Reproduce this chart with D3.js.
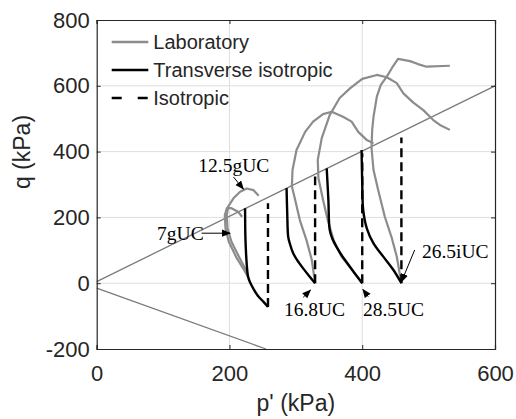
<!DOCTYPE html>
<html>
<head>
<meta charset="utf-8">
<script src="https://cdn.jsdelivr.net/npm/d3@7"></script>
<style>
    body { margin: 0; background: #fff; }
    svg { display: block; }
</style>
</head>
<body>
<svg></svg>
<script>

// ---- data (p' and q in kPa) ----
const xTicks = [0, 200, 400, 600]
const yTicks = [-200, 0, 200, 400, 600, 800]

// critical state lines
const cslP = [0, 600]
const cslQ = [5, 600]
const extP = [0, 255]
const extQ = [-15, -200]

// laboratory paths
const lab7gP = [228, 222, 211, 199, 194, 193, 196, 203, 213, 219]
const lab7gQ = [19, 40, 76, 126, 167, 207, 228, 228, 217, 202]
const lab12gP = [228, 226, 213, 203, 197, 196, 198, 206, 216, 226, 236, 244]
const lab12gQ = [19, 35, 86, 126, 167, 207, 233, 258, 278, 288, 283, 266]
const lab16P = [329, 324, 316, 306, 299, 294, 295, 301, 314, 326, 341, 354, 371, 384, 394, 407, 417]
const lab16Q = [0, 71, 131, 192, 253, 295, 344, 405, 460, 491, 514, 521, 506, 491, 460, 435, 425]
const lab28P = [400, 385, 369, 357, 348, 341, 334, 333, 339, 351, 366, 382, 400, 422, 437, 452, 462, 477, 492, 507, 517, 532]
const lab28Q = [0, 40, 80, 131, 192, 253, 320, 375, 441, 511, 563, 593, 621, 633, 626, 608, 577, 549, 526, 496, 481, 466]
const lab26P = [459, 452, 444, 434, 424, 417, 414, 415, 417, 422, 428, 437, 445, 454, 472, 484, 497, 532]
const lab26Q = [0, 81, 141, 202, 283, 344, 411, 466, 506, 567, 603, 628, 655, 682, 675, 666, 658, 661]

// transverse isotropic model
const ti7gP = [258, 251, 243, 237, 231, 228, 226.5, 225, 224, 223.5]
const ti7gQ = [-72, -56, -39, -20, 3, 20, 45, 90, 140, 228]
const ti16P = [329, 320, 311, 302, 296, 291, 288.5, 287, 286]
const ti16Q = [0, 22, 45, 70, 91, 120, 141, 213, 289]
const ti28P = [400, 388, 376, 368, 361, 355, 351, 349, 346.5]
const ti28Q = [0, 32, 65, 88, 111, 135, 162, 253, 349]
const ti26P = [459, 447, 432, 417, 407, 401.5, 400, 399]
const ti26Q = [0, 40, 80, 121, 166, 222, 304, 405]

// isotropic model (vertical paths)
const isoP = [258, 329, 400, 459]
const isoQstart = [-72, 0, 0, 0]
const isoQend = [243, 324, 395, 443]

// labels with arrows
const annText = ["7gUC", "12.5gUC", "16.8UC", "28.5UC", "26.5iUC"]
const annP = [91, 153, 282, 401, 490]
const annQ = [130, 338, -100, -100, 77]
const arrowFromP = [158, 206, 311, 409, 479]
const arrowFromQ = [152, 323, -43, -41, 101]
const arrowToP = [201, 221, 322, 401, 459]
const arrowToQ = [152, 286, -21, -19, 4]

const legendNames = ["Laboratory", "Transverse isotropic", "Isotropic"]

// ---- drawing ----
const width = 516
const height = 419
const margin = { left: 96.7, right: 21, top: 20, bottom: 70 }

const svg = d3.select("svg")
    .attr("width", width)
    .attr("height", height)

const x = d3.scaleLinear()
    .domain([0, 600])
    .range([margin.left, width - margin.right])

const y = d3.scaleLinear()
    .domain([-200, 800])
    .range([height - margin.bottom, margin.top])

const axisColor = "#262626"
const plainNumber = d => String(d)   // keep the ASCII hyphen for negatives

// grid
const grid = svg.append("g")
grid.selectAll("line.gx")
    .data(xTicks.slice(1, -1))
    .enter()
    .append("line")
    .attr("x1", d => x(d)).attr("x2", d => x(d))
    .attr("y1", y(-200)).attr("y2", y(800))
    .attr("stroke", "#dedede")
    .attr("stroke-width", 1)
grid.selectAll("line.gy")
    .data(yTicks.slice(1, -1))
    .enter()
    .append("line")
    .attr("y1", d => y(d)).attr("y2", d => y(d))
    .attr("x1", x(0)).attr("x2", x(600))
    .attr("stroke", "#dedede")
    .attr("stroke-width", 1)

const lineGen = d3.line()
    .x(d => x(d[0]))
    .y(d => y(d[1]))

const smoothGen = d3.line()
    .x(d => x(d[0]))
    .y(d => y(d[1]))
    .curve(d3.curveCatmullRom)

const zip = (a, b) => a.map((v, i) => [v, b[i]])

// critical state lines
svg.append("path")
    .attr("d", lineGen(zip(cslP, cslQ)))
    .attr("fill", "none")
    .attr("stroke", "#7a7a7a")
    .attr("stroke-width", 1.3)
svg.append("path")
    .attr("d", lineGen(zip(extP, extQ)))
    .attr("fill", "none")
    .attr("stroke", "#7a7a7a")
    .attr("stroke-width", 1.3)

// laboratory
const labPaths = [
    zip(lab7gP, lab7gQ),
    zip(lab12gP, lab12gQ),
    zip(lab16P, lab16Q),
    zip(lab28P, lab28Q),
    zip(lab26P, lab26Q)
]
svg.append("g")
    .selectAll("path")
    .data(labPaths)
    .enter()
    .append("path")
    .attr("d", lineGen)
    .attr("fill", "none")
    .attr("stroke", "#8c8c8c")
    .attr("stroke-width", 2.2)
    .attr("stroke-linejoin", "round")

// isotropic
svg.append("g")
    .selectAll("line")
    .data(isoP)
    .enter()
    .append("line")
    .attr("x1", d => x(d)).attr("x2", d => x(d))
    .attr("y1", (d, i) => y(isoQstart[i]))
    .attr("y2", (d, i) => y(isoQend[i]))
    .attr("stroke", "#000")
    .attr("stroke-width", 2.4)
    .attr("stroke-dasharray", "9,5")

// transverse isotropic
const tiPaths = [
    zip(ti7gP, ti7gQ),
    zip(ti16P, ti16Q),
    zip(ti28P, ti28Q),
    zip(ti26P, ti26Q)
]
svg.append("g")
    .selectAll("path")
    .data(tiPaths)
    .enter()
    .append("path")
    .attr("d", smoothGen)
    .attr("fill", "none")
    .attr("stroke", "#000")
    .attr("stroke-width", 2.4)

// axes: ticks inside on all four sides
const xAxis = d3.axisBottom(x).tickValues(xTicks).tickSize(-4).tickPadding(16).tickFormat(plainNumber)
const yAxis = d3.axisLeft(y).tickValues(yTicks).tickSize(-4).tickPadding(7).tickFormat(plainNumber)

const gx = svg.append("g")
    .attr("transform", `translate(0,${y(-200)})`)
    .call(xAxis)
const gy = svg.append("g")
    .attr("transform", `translate(${x(0)},0)`)
    .call(yAxis)
const gxTop = svg.append("g")
    .attr("transform", `translate(0,${y(800)})`)
    .call(d3.axisTop(x).tickValues(xTicks).tickSize(-4).tickFormat(""))
const gyRight = svg.append("g")
    .attr("transform", `translate(${x(600)},0)`)
    .call(d3.axisRight(y).tickValues(yTicks).tickSize(-4).tickFormat(""))

;[gx, gy, gxTop, gyRight].forEach(g => {
    g.select(".domain").attr("stroke", axisColor).attr("stroke-width", 1.2)
    g.selectAll(".tick line").attr("stroke", axisColor)
    g.selectAll("text")
        .attr("fill", axisColor)
        .style("font-family", "'Liberation Sans', Arial, sans-serif")
        .style("font-size", "22px")
})

// axis titles
svg.append("text")
    .attr("x", x(300))
    .attr("y", 411)
    .attr("text-anchor", "middle")
    .attr("fill", axisColor)
    .style("font-family", "'Liberation Sans', Arial, sans-serif")
    .style("font-size", "23px")
    .text("p' (kPa)")

svg.append("text")
    .attr("transform", "translate(30,152) rotate(-90)")
    .attr("text-anchor", "middle")
    .attr("fill", axisColor)
    .style("font-family", "'Liberation Sans', Arial, sans-serif")
    .style("font-size", "23px")
    .text("q (kPa)")

// arrows
svg.append("defs")
    .append("marker")
    .attr("id", "head")
    .attr("viewBox", "0 0 10 10")
    .attr("refX", 9)
    .attr("refY", 5)
    .attr("markerWidth", 9)
    .attr("markerHeight", 9)
    .attr("markerUnits", "userSpaceOnUse")
    .attr("orient", "auto")
    .append("path")
    .attr("d", "M0,1 L10,5 L0,9 Z")
    .attr("fill", "#000")

svg.append("g")
    .selectAll("line")
    .data(arrowFromP)
    .enter()
    .append("line")
    .attr("x1", d => x(d))
    .attr("y1", (d, i) => y(arrowFromQ[i]))
    .attr("x2", (d, i) => x(arrowToP[i]))
    .attr("y2", (d, i) => y(arrowToQ[i]))
    .attr("stroke", "#000")
    .attr("stroke-width", 1)
    .attr("marker-end", "url(#head)")

svg.append("g")
    .selectAll("text")
    .data(annText)
    .enter()
    .append("text")
    .attr("x", (d, i) => x(annP[i]))
    .attr("y", (d, i) => y(annQ[i]))
    .attr("fill", "#000")
    .style("font-family", "'Liberation Serif', 'Times New Roman', serif")
    .style("font-size", "19.5px")
    .text(d => d)

// legend
const legend = svg.append("g")
const legendStyles = [
    { stroke: "#8c8c8c", dash: null, x2: 148.3 },
    { stroke: "#000", dash: null, x2: 148.3 },
    { stroke: "#000", dash: "10,16", x2: 148.3 }
]
legendNames.forEach((name, i) => {
    const ly = 42 + i * 28
    legend.append("line")
        .attr("x1", 111.7).attr("x2", legendStyles[i].x2)
        .attr("y1", ly).attr("y2", ly)
        .attr("stroke", legendStyles[i].stroke)
        .attr("stroke-width", 2.4)
        .attr("stroke-dasharray", legendStyles[i].dash)
    legend.append("text")
        .attr("x", 153.3)
        .attr("y", ly)
        .attr("dy", "0.35em")
        .attr("fill", axisColor)
        .style("font-family", "'Liberation Sans', Arial, sans-serif")
        .style("font-size", "20px")
        .text(name)
})

</script>
</body>
</html>
